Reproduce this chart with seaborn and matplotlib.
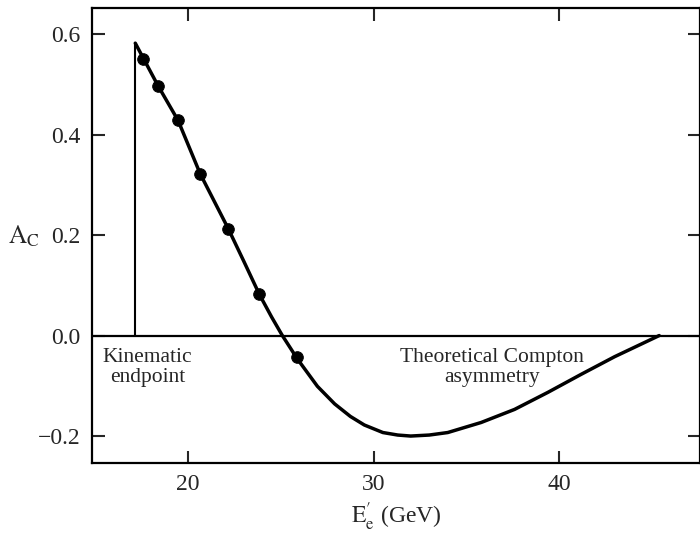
import matplotlib
matplotlib.use("Agg")
import matplotlib.pyplot as plt
import seaborn as sns
import pandas as pd

sns.set_style("ticks")
plt.rcParams['font.family'] = ['Liberation Serif', 'DejaVu Serif']
plt.rcParams['mathtext.fontset'] = 'stix'

# theoretical curve
curve_e = [17.15, 17.57, 18.38, 19.46, 20.65, 22.16, 23.0, 23.84, 24.5, 25.08,
           25.9, 26.97, 27.9, 28.75, 29.5, 30.5, 31.3, 32.0, 33.0, 34.0, 35.8,
           37.6, 39.4, 41.2, 43.0, 44.2, 45.4]
curve_a = [0.582, 0.553, 0.497, 0.428, 0.322, 0.213, 0.148, 0.082, 0.037, 0.0,
           -0.047, -0.101, -0.136, -0.161, -0.178, -0.193, -0.198, -0.200, -0.198,
           -0.193, -0.173, -0.147, -0.113, -0.077, -0.042, -0.021, 0.0]

# measured points
dots_e = [17.57, 18.38, 19.46, 20.65, 22.16, 23.84, 25.89]
dots_a = [0.550, 0.497, 0.429, 0.322, 0.213, 0.082, -0.042]

endpoint_e = 17.15
endpoint_a = 0.582

curve_df = pd.DataFrame({'E': curve_e, 'A': curve_a})
dots_df = pd.DataFrame({'E': dots_e, 'A': dots_a})

fig = plt.figure(figsize=(7, 5.33), dpi=100)
ax = fig.add_axes([0.131, 0.131, 0.869, 0.854])

ax.axhline(0, color='black', linewidth=1.6, zorder=1)
ax.plot([endpoint_e, endpoint_e], [0, endpoint_a], color='black', linewidth=1.5)
sns.lineplot(data=curve_df, x='E', y='A', ax=ax, color='black', linewidth=2.5,
             sort=False, estimator=None)
sns.scatterplot(data=dots_df, x='E', y='A', ax=ax, color='black', s=70,
                edgecolor='black', zorder=5)

ax.set_xlim(14.8, 47.6)
ax.set_ylim(-0.254, 0.652)
ax.set_xticks([20, 30, 40])
ax.set_yticks([-0.2, 0.0, 0.2, 0.4, 0.6])
ax.set_yticklabels(['\u22120.2', '0.0', '0.2', '0.4', '0.6'])
ax.tick_params(direction='in', length=9, width=1.5, labelsize=17,
               top=True, right=True, pad=8)
for s in ax.spines.values():
    s.set_linewidth(1.6)
    s.set_color('black')

ax.set_xlabel(r"$\mathrm{E}_\mathrm{e}^{\prime}$ (GeV)", fontsize=17, labelpad=4)
ax.set_ylabel(r"$\mathrm{A}_\mathrm{C}$", fontsize=18, rotation=0)
ax.yaxis.set_label_coords(-0.112, 0.47)

ax.text(17.8, -0.064, "Kinematic\nendpoint", ha='center', va='center',
        fontsize=15.5, linespacing=1.1)
ax.text(36.4, -0.064, "Theoretical Compton\nasymmetry", ha='center', va='center',
        fontsize=15.5, linespacing=1.1)

fig.savefig("out.png", dpi=100)
